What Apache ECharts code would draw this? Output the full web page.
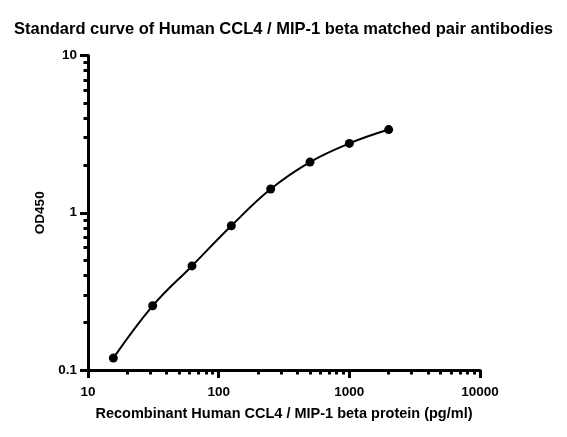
<!DOCTYPE html>
<html>
<head>
<meta charset="utf-8">
<script src="https://cdn.jsdelivr.net/npm/echarts@6/dist/echarts.min.js"></script>
<style>html,body{margin:0;padding:0;background:#fff}#c{width:567px;height:437px}</style>
</head>
<body>
<div id="c"></div>
<script>
const concentrations = [15.625, 31.25, 62.5, 125, 250, 500, 1000, 2000];
const od450 = [0.119, 0.256, 0.459, 0.826, 1.415, 2.10, 2.76, 3.38];
const xMajorTicks = [10, 100, 1000, 10000];
const xMinorTicks = [20,30,40,50,60,70,80,90,200,300,400,500,600,700,800,900,2000,3000,4000,5000,6000,7000,8000,9000];
const yMajorTicks = [0.1, 1, 10];
const yMinorTicks = [0.2,0.3,0.4,0.5,0.6,0.7,0.8,0.9,2,3,4,5,6,7,8,9];

const font = '"Liberation Sans", Arial, sans-serif';
const chart = echarts.init(document.getElementById('c'));
const grid = {left: 88, top: 55.5, right: 87, bottom: 67};
chart.setOption({
  animation: false,
  title: {
    text: 'Standard curve of Human CCL4 / MIP-1 beta matched pair antibodies',
    left: 'center', top: 16,
    textStyle: {fontFamily: font, fontSize: 16.5, fontWeight: 'bold', color: '#000'}
  },
  grid: grid,
  xAxis: [{
    type: 'log', min: 10, max: 10000, logBase: 10,
    name: 'Recombinant Human CCL4 / MIP-1 beta protein (pg/ml)',
    nameLocation: 'middle', nameGap: 36,
    nameTextStyle: {fontFamily: font, fontSize: 14.5, fontWeight: 'bold', color: '#000'},
    axisLine: {lineStyle: {color: '#000', width: 3}},
    axisTick: {length: 8, lineStyle: {width: 3, color: '#000'}, customValues: xMajorTicks},
    axisLabel: {fontFamily: font, fontSize: 13.5, fontWeight: 'bold', color: '#000', margin: 15,
      customValues: xMajorTicks, formatter: v => String(v)},
    splitLine: {show: false}, minorTick: {show: false}
  }, {
    type: 'log', min: 10, max: 10000, logBase: 10, position: 'bottom',
    axisLine: {show: false},
    axisTick: {length: 4.5, lineStyle: {width: 3, color: '#000'}, customValues: xMinorTicks},
    axisLabel: {show: false},
    splitLine: {show: false}
  }],
  yAxis: [{
    type: 'log', min: 0.1, max: 10, logBase: 10,
    name: 'OD450', nameLocation: 'middle', nameGap: 31, nameRotate: 90,
    nameTextStyle: {fontFamily: font, fontSize: 13.5, fontWeight: 'bold', color: '#000'},
    axisLine: {lineStyle: {color: '#000', width: 3}},
    axisTick: {length: 8, lineStyle: {width: 3, color: '#000'}, customValues: yMajorTicks},
    axisLabel: {fontFamily: font, fontSize: 13.5, fontWeight: 'bold', color: '#000', margin: 11,
      customValues: yMajorTicks, formatter: v => String(v)},
    splitLine: {show: false}
  }, {
    type: 'log', min: 0.1, max: 10, logBase: 10, position: 'left',
    axisLine: {show: false},
    axisTick: {length: 4.5, lineStyle: {width: 3, color: '#000'}, customValues: yMinorTicks},
    axisLabel: {show: false},
    splitLine: {show: false}
  }],
  series: [{
    type: 'line',
    xAxisIndex: 0, yAxisIndex: 0,
    data: concentrations.map((c, i) => [c, od450[i]]),
    smooth: 0.4,
    symbol: 'circle', symbolSize: 9,
    lineStyle: {color: '#000', width: 2},
    itemStyle: {color: '#000'}
  }]
});
</script>
</body>
</html>
